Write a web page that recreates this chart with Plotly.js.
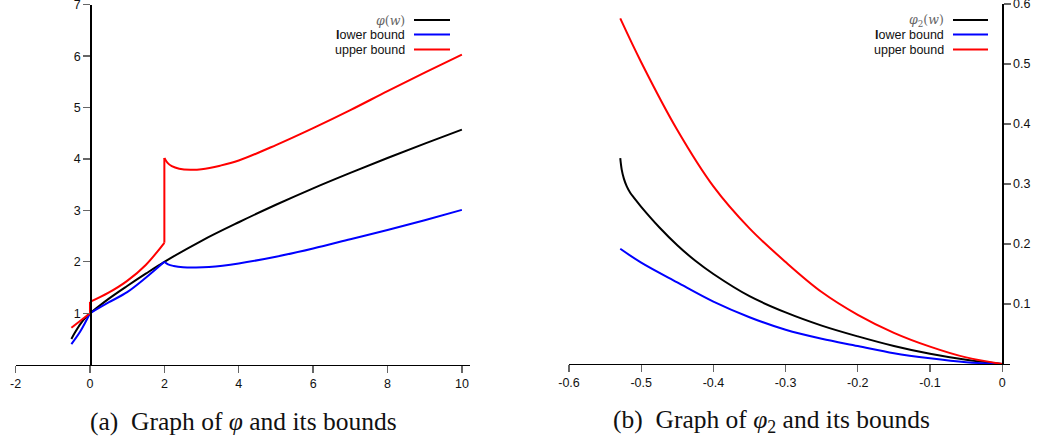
<!DOCTYPE html>
<html>
<head>
<meta charset="utf-8">
<script src="https://cdn.plot.ly/plotly-3.0.1.min.js"></script>
<style>html,body{margin:0;padding:0;background:#fff;}#chart{width:1037px;height:446px;}</style>
</head>
<body>
<div id="chart"></div>
<script>
// ---- Panel (a): phi and its bounds (pieces between the kinks / jumps) ----
const phiX1 = [-0.5, -0.4, -0.25, -0.1, 0];
const phiY1 = [0.50, 0.63, 0.80, 0.93, 1.0];
const phiX2 = [0, 0.5, 1, 1.5, 2, 3, 4, 5, 6, 7, 8, 9, 10];
const phiY2 = [1.0, 1.28, 1.53, 1.77, 2.0, 2.41, 2.77, 3.11, 3.43, 3.73, 4.02, 4.30, 4.57];

const lowX1 = [-0.5, -0.25, 0];
const lowY1 = [0.40, 0.66, 1.0];
const lowX2 = [0, 0.5, 1, 1.5, 2];
const lowY2 = [1.0, 1.21, 1.41, 1.69, 2.0];
const lowX3 = [2, 2.1, 2.25, 2.5, 2.85, 3.2, 4, 5, 6, 7, 8, 9, 10];
const lowY3 = [2.0, 1.95, 1.92, 1.895, 1.89, 1.90, 1.97, 2.10, 2.26, 2.44, 2.62, 2.81, 3.01];

const upX1 = [-0.5, 0];
const upY1 = [0.72, 1.0];
const upX2 = [0, 0.5, 1, 1.5, 2];
const upY2 = [1.22, 1.40, 1.63, 1.94, 2.37];
const upX3 = [2, 2.08, 2.2, 2.4, 2.7, 3, 3.5, 4, 5, 6, 7, 8, 9, 10];
const upY3 = [4.02, 3.93, 3.86, 3.81, 3.79, 3.80, 3.87, 3.97, 4.27, 4.60, 4.95, 5.32, 5.68, 6.03];

const aTickX = [-2, 0, 2, 4, 6, 8, 10];
const aTickXText = ['-2', '0', '2', '4', '6', '8', '10'];
const aTickY = [1, 2, 3, 4, 5, 6, 7];

// ---- Panel (b): phi_2 and its bounds ----
const phi2X = [-0.529, -0.527, -0.524, -0.52, -0.515, -0.51, -0.5, -0.475, -0.45, -0.425, -0.4, -0.35, -0.3, -0.25, -0.2, -0.15, -0.1, -0.05, 0];
const phi2Y = [0.343, 0.324, 0.309, 0.296, 0.285, 0.277, 0.262, 0.228, 0.198, 0.172, 0.150, 0.113, 0.086, 0.064, 0.046, 0.030, 0.017, 0.007, 0];
const bndX  = [-0.529, -0.5, -0.45, -0.4, -0.35, -0.3, -0.25, -0.2, -0.15, -0.1, -0.05, 0];
const low2Y = [0.192, 0.169, 0.136, 0.104, 0.078, 0.057, 0.042, 0.030, 0.018, 0.0095, 0.003, 0];
const up2Y  = [0.576, 0.503, 0.390, 0.296, 0.226, 0.170, 0.120, 0.082, 0.052, 0.029, 0.011, 0];
const bTickX = [-0.6, -0.5, -0.4, -0.3, -0.2, -0.1, 0];
const bTickXText = ['-0.6', '-0.5', '-0.4', '-0.3', '-0.2', '-0.1', '0'];
const bTickY = [0.1, 0.2, 0.3, 0.4, 0.5, 0.6];

const W = 1037, H = 446;
const px = v => v / W;
const py = v => 1 - v / H;

const BLACK = '#000000', BLUE = '#0000ff', RED = '#ff0000';
const lw = 2;
function seg(x, y, color, ax, shape) {
  return {x: x, y: y, xaxis: ax[0], yaxis: ax[1], mode: 'lines',
          line: {color: color, width: lw, shape: shape || 'spline', smoothing: 1}};
}
const A = ['x', 'y'], B = ['x2', 'y2'];
const last = a => a[a.length - 1];
const upJumpX = [last(upX1), upX2[0], null, last(upX2), upX3[0]];
const upJumpY = [last(upY1), upY2[0], null, last(upY2), upY3[0]];

const traces = [
  seg(phiX1, phiY1, BLACK, A), seg(phiX2, phiY2, BLACK, A),
  seg(lowX1, lowY1, BLUE, A), seg(lowX2, lowY2, BLUE, A), seg(lowX3, lowY3, BLUE, A),
  seg(upX1, upY1, RED, A, 'linear'), seg(upX2, upY2, RED, A), seg(upX3, upY3, RED, A),
  seg(upJumpX, upJumpY, RED, A, 'linear'),
  seg(phi2X, phi2Y, BLACK, B), seg(bndX, low2Y, BLUE, B), seg(bndX, up2Y, RED, B)
];

const tickFont = {family: 'Liberation Sans, Arial, sans-serif', size: 12.5, color: '#111'};
const axisCommon = {
  showgrid: false, zeroline: false, showline: true, linecolor: '#000', linewidth: 1.3,
  ticks: 'outside', ticklen: 7, tickwidth: 1.3, tickcolor: '#666',
  tickfont: tickFont, automargin: false, fixedrange: true, ticklabeloverflow: 'allow'
};

const aX0 = 15.6, aX1 = 470;
const bX0 = 569, bX1 = 1010;

const layout = {
  width: W, height: H,
  margin: {l: 0, r: 0, t: 0, b: 0},
  paper_bgcolor: '#fff', plot_bgcolor: '#fff',
  showlegend: false,
  xaxis: Object.assign({}, axisCommon, {
    domain: [px(aX0), px(aX1)], range: [-2, -2 + (aX1 - aX0) / 37.19],
    anchor: 'y', tickmode: 'array', tickvals: aTickX, ticktext: aTickXText
  }),
  yaxis: Object.assign({}, axisCommon, {
    domain: [py(364.7), py(4.7)], range: [0, 7],
    anchor: 'free', position: px(90.2), side: 'left',
    tickmode: 'array', tickvals: aTickY, ticktext: aTickY.map(String)
  }),
  xaxis2: Object.assign({}, axisCommon, {
    domain: [px(bX0), px(bX1)], range: [-0.6, -0.6 + (bX1 - bX0) / 722],
    anchor: 'y2', tickmode: 'array', tickvals: bTickX, ticktext: bTickXText
  }),
  yaxis2: Object.assign({}, axisCommon, {
    domain: [py(364), py(4)], range: [0, 0.6],
    anchor: 'free', position: px(1002.2), side: 'right',
    tickmode: 'array', tickvals: bTickY, ticktext: bTickY.map(v => v.toFixed(1))
  }),
  annotations: [],
  shapes: []
};

const legFont = {family: 'Liberation Sans, Arial, sans-serif', size: 12.5, color: '#111'};
const mathStyle = 'font-family:DejaVu Serif;color:#666';
function addLegend(textRight, lineX0, lineX1, labels) {
  const rows = [20, 34.5, 49.5];
  const colors = [BLACK, BLUE, RED];
  labels.forEach((t, i) => {
    layout.annotations.push({
      xref: 'paper', yref: 'paper', x: px(textRight), y: py(rows[i]),
      xanchor: 'right', yanchor: 'middle', showarrow: false, text: t, font: legFont
    });
    layout.shapes.push({
      type: 'line', xref: 'paper', yref: 'paper',
      x0: px(lineX0), x1: px(lineX1), y0: py(rows[i]), y1: py(rows[i]),
      line: {color: colors[i], width: 2}
    });
  });
}
addLegend(407, 414, 450, [
  '<span style="' + mathStyle + '"><i>φ</i>(<i>w</i>)</span>',
  '<b>l</b>ower bound', 'upper bound'
]);
addLegend(946, 953, 988, [
  '<span style="' + mathStyle + '"><i>φ</i><sub>2</sub>(<i>w</i>)</span>',
  '<b>l</b>ower bound', 'upper bound'
]);

const capFont = {family: 'Liberation Serif, DejaVu Serif, serif', size: 25.5, color: '#111'};
layout.annotations.push({
  xref: 'paper', yref: 'paper', x: px(243), y: py(421), xanchor: 'center', yanchor: 'middle',
  showarrow: false, font: capFont, text: '(a)  Graph of <i>φ</i> and its bounds'
});
layout.annotations.push({
  xref: 'paper', yref: 'paper', x: px(771), y: py(421), xanchor: 'center', yanchor: 'middle',
  showarrow: false, font: capFont, text: '(b)  Graph of <i>φ</i><sub>2</sub> and its bounds'
});

Plotly.newPlot('chart', traces, layout, {staticPlot: true, displayModeBar: false});
</script>
</body>
</html>
